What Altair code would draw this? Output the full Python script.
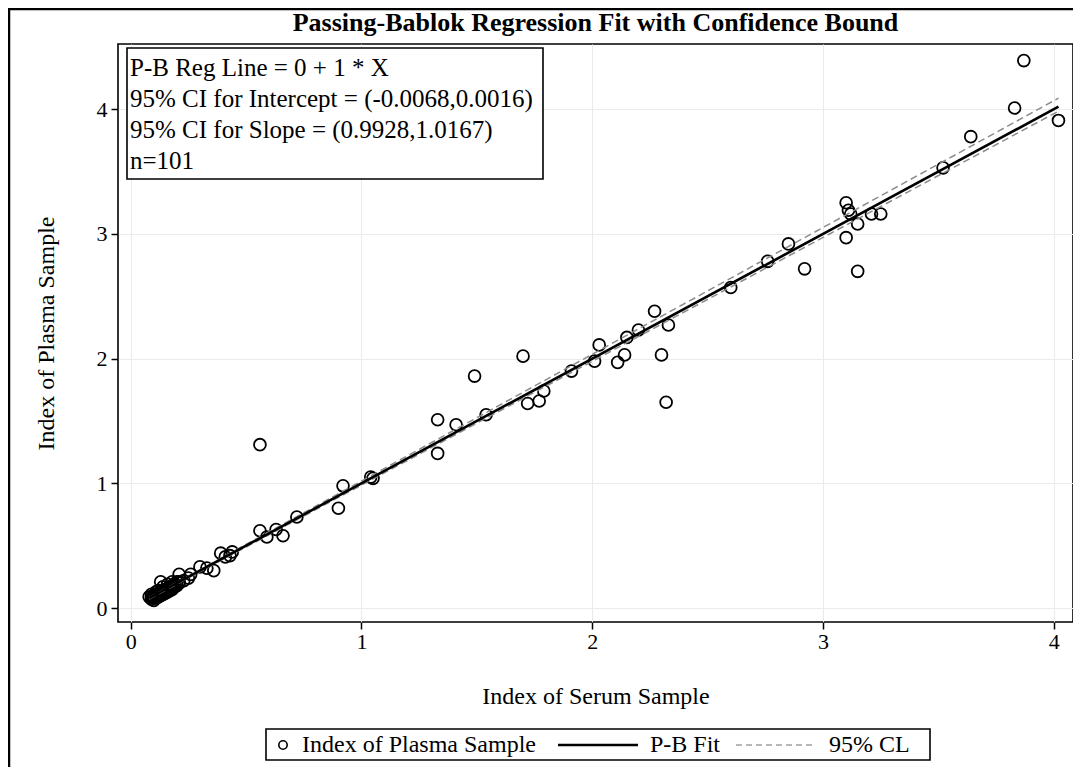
import altair as alt
import pandas as pd

# ---------------- data ----------------
serum = [3.87, 3.83, 4.02, 3.64, 3.52, 3.10, 3.11, 3.12, 3.15, 3.21, 3.25, 3.10, 2.85, 2.76, 2.92, 3.15, 2.60,
         2.27, 2.03, 2.01, 2.11, 2.14, 2.15, 2.20, 2.33, 2.30, 2.32,
         1.70, 1.49, 1.33, 1.41, 1.54, 1.33, 1.72, 1.77, 1.79, 1.91, 1.04, 1.05,
         0.92, 0.90, 0.72, 0.56, 0.56, 0.59, 0.63, 0.66, 0.39, 0.41, 0.44, 0.43, 0.30, 0.33, 0.36, 0.26, 0.21, 0.21, 0.13,
         0.08, 0.09, 0.09, 0.10, 0.10, 0.10, 0.11, 0.11, 0.11, 0.12, 0.12, 0.12, 0.13, 0.13, 0.13, 0.14, 0.14, 0.14,
         0.15, 0.15, 0.15, 0.16, 0.16, 0.16, 0.17, 0.17, 0.17, 0.18, 0.18, 0.18, 0.19, 0.19, 0.20, 0.20, 0.12, 0.14,
         0.16, 0.18, 0.09, 0.11, 0.21, 0.23, 0.25]
plasma = [4.39, 4.01, 3.91, 3.78, 3.53, 3.25, 3.19, 3.16, 3.08, 3.16, 3.16, 2.97, 2.92, 2.78, 2.72, 2.70, 2.57,
          2.38, 2.11, 1.98, 1.97, 2.03, 2.17, 2.23, 2.27, 2.03, 1.65,
          2.02, 1.86, 1.51, 1.47, 1.55, 1.24, 1.64, 1.66, 1.74, 1.90, 1.05, 1.04,
          0.98, 0.80, 0.73, 1.31, 0.62, 0.57, 0.63, 0.58, 0.44, 0.41, 0.45, 0.42, 0.33, 0.32, 0.30, 0.27, 0.27, 0.21, 0.21,
          0.09, 0.07, 0.09, 0.08, 0.10, 0.06, 0.09, 0.11, 0.08, 0.10, 0.12, 0.09, 0.11, 0.13, 0.10, 0.12, 0.14, 0.11,
          0.13, 0.15, 0.12, 0.14, 0.16, 0.13, 0.15, 0.17, 0.14, 0.16, 0.18, 0.15, 0.17, 0.19, 0.18, 0.21, 0.14, 0.17,
          0.19, 0.21, 0.11, 0.13, 0.20, 0.22, 0.24]

fit_intercept, fit_slope = 0.0, 1.0
ci_intercept = [-0.0068, 0.0016]
ci_slope = [0.9928, 1.0167]

title_text = "Passing-Bablok Regression Fit with Confidence Bound"
x_title = "Index of Serum Sample"
y_title = "Index of Plasma Sample"
box_lines = ["P-B Reg Line = 0 + 1 * X",
             "95% CI for Intercept = (-0.0068,0.0016)",
             "95% CI for Slope = (0.9928,1.0167)",
             "n=101"]
legend_labels = ["Index of Plasma Sample", "P-B Fit", "95% CL"]
ticks = [0, 1, 2, 3, 4]

FONT = "Liberation Serif"
W, H = 955, 578

# ---------------- tables ----------------
pts = pd.DataFrame({"serum": serum, "plasma": plasma})
x0, x1 = min(serum), max(serum)
fit = pd.DataFrame({"serum": [x0, x1],
                    "plasma": [fit_intercept + fit_slope * x0, fit_intercept + fit_slope * x1]})
cl_rows = []
for k, (a, b) in enumerate(zip(ci_intercept, ci_slope)):
    for xv in (x0, x1):
        cl_rows.append({"serum": xv, "plasma": a + b * xv, "bound": k})
cl = pd.DataFrame(cl_rows)
one = pd.DataFrame({"k": [0]})

xs = alt.Scale(domain=[-0.055, 4.083], nice=False, zero=False)
ys = alt.Scale(domain=[-0.112, 4.523], nice=False, zero=False)
xax = alt.Axis(values=ticks, format="d", title=x_title, grid=True, gridColor="#ebebeb", domain=False,
               tickSize=7, tickColor="black", tickWidth=1.5, labelPadding=2, labelFontSize=22,
               titleFontSize=24, titleFontWeight="normal", titlePadding=32, labelColor="black",
               titleColor="black")
yax = alt.Axis(values=ticks, format="d", title=y_title, grid=True, gridColor="#ebebeb", domain=False,
               tickSize=7, tickColor="black", tickWidth=1.5, labelPadding=4, labelFontSize=22,
               titleFontSize=24, titleFontWeight="normal", titlePadding=38, labelColor="black",
               titleColor="black")

points = alt.Chart(pts).mark_point(shape="circle", filled=False, color="black", size=140,
                                   strokeWidth=1.8, opacity=1).encode(
    x=alt.X("serum:Q", scale=xs, axis=xax),
    y=alt.Y("plasma:Q", scale=ys, axis=yax))

cl_lines = alt.Chart(cl).mark_line(color="#8c8c8c", strokeWidth=1.5, strokeDash=[7, 4]).encode(
    x=alt.X("serum:Q", scale=xs), y=alt.Y("plasma:Q", scale=ys), detail="bound:N")

fit_line = alt.Chart(fit).mark_line(color="black", strokeWidth=2.6).encode(
    x=alt.X("serum:Q", scale=xs), y=alt.Y("plasma:Q", scale=ys))

# title drawn as text above the plot
title_mark = alt.Chart(one).mark_text(align="center", baseline="alphabetic", font=FONT, fontSize=26,
                                      fontWeight="bold", color="black").encode(
    x=alt.value(W / 2), y=alt.value(-13), text=alt.value(title_text))

# inset box
box = alt.Chart(one).mark_rect(fill="white", stroke="black", strokeWidth=1.6).encode(
    x=alt.value(9), x2=alt.value(425), y=alt.value(4), y2=alt.value(135))
box_text = alt.Chart(one).mark_text(align="left", baseline="alphabetic", font=FONT, fontSize=25,
                                    lineHeight=31, color="black").encode(
    x=alt.value(12), y=alt.value(32), text=alt.value(box_lines))

# legend (drawn by hand)
LY = 701
leg_box = alt.Chart(one).mark_rect(fill="white", stroke="black", strokeWidth=1.6).encode(
    x=alt.value(148), x2=alt.value(812), y=alt.value(685), y2=alt.value(716))
leg_pt = alt.Chart(one).mark_point(shape="circle", filled=False, color="black", size=70,
                                   strokeWidth=1.6, opacity=1).encode(x=alt.value(165), y=alt.value(LY))
leg_solid = alt.Chart(one).mark_rule(color="black", strokeWidth=2.6).encode(
    x=alt.value(440), x2=alt.value(520), y=alt.value(LY))
leg_dash = alt.Chart(one).mark_rule(color="#a0a0a0", strokeWidth=1.5, strokeDash=[6, 4]).encode(
    x=alt.value(618), x2=alt.value(698), y=alt.value(LY))
leg_t1 = alt.Chart(one).mark_text(align="left", baseline="middle", font=FONT, fontSize=24, color="black").encode(
    x=alt.value(184), y=alt.value(LY), text=alt.value(legend_labels[0]))
leg_t2 = alt.Chart(one).mark_text(align="left", baseline="middle", font=FONT, fontSize=24, color="black").encode(
    x=alt.value(532), y=alt.value(LY), text=alt.value(legend_labels[1]))
leg_t3 = alt.Chart(one).mark_text(align="left", baseline="middle", font=FONT, fontSize=24, color="black").encode(
    x=alt.value(711), y=alt.value(LY), text=alt.value(legend_labels[2]))

# outer image border (left and top)
border_left = alt.Chart(one).mark_rule(color="black", strokeWidth=2.5).encode(
    x=alt.value(-109), y=alt.value(-36), y2=alt.value(H + 150))
border_top = alt.Chart(one).mark_rule(color="black", strokeWidth=2.5).encode(
    x=alt.value(-110), x2=alt.value(W + 10), y=alt.value(-35))

chart = alt.layer(
    points, cl_lines, fit_line, box, box_text, title_mark,
    leg_box, leg_pt, leg_solid, leg_dash, leg_t1, leg_t2, leg_t3,
    border_left, border_top
).properties(
    width=W, height=H,
    autosize=alt.AutoSizeParams(type="none"),
    padding={"left": 110, "top": 36, "right": 0, "bottom": 145},
).configure(font=FONT).configure_view(stroke="black", strokeWidth=1.6).configure_axis(
    labelFont=FONT, titleFont=FONT)

chart.save("out.html", embed_options={"renderer": "svg", "actions": False})
